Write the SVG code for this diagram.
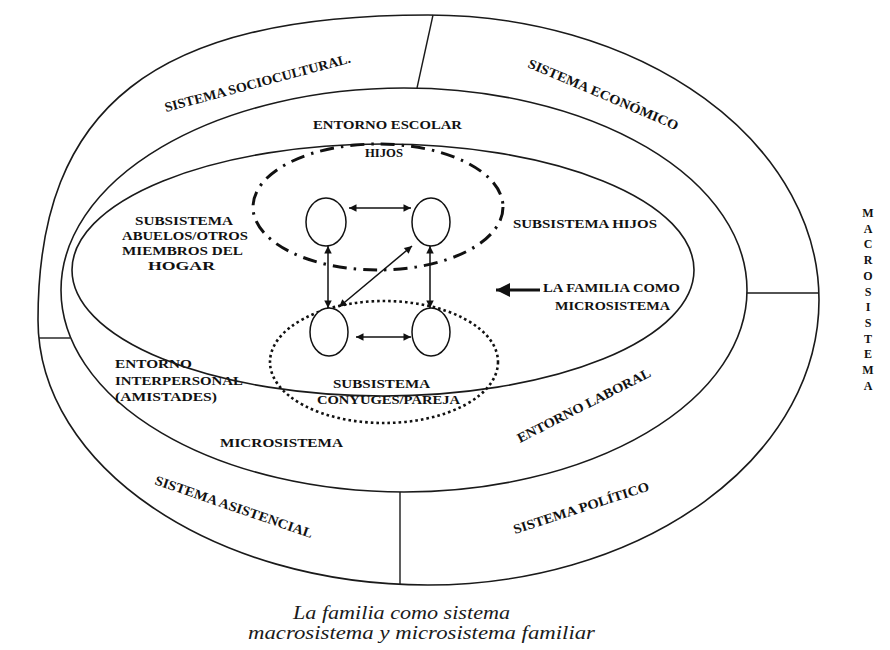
<svg xmlns="http://www.w3.org/2000/svg" width="890" height="650" viewBox="0 0 890 650">
<style>
.ring{fill:none;stroke:#1a1a1a;stroke-width:1.6}
.div{stroke:#1a1a1a;stroke-width:1.4}
.lbl{font-family:"Liberation Serif","Times New Roman",serif;font-weight:bold;font-size:13.5px;fill:#111}
.sm{font-size:13px}
.xs{font-size:12.5px}
.mid{text-anchor:middle}
.cap{font-family:"Liberation Serif","Times New Roman",serif;font-style:italic;font-size:19px;fill:#1a1a1a}
.con{stroke:#111;stroke-width:1.5;fill:none}
.mem{fill:#fff;stroke:#111;stroke-width:1.5}
</style>
<defs>
<marker id="ah" viewBox="0 0 10 10" refX="10" refY="5" markerWidth="6" markerHeight="5" orient="auto-start-reverse" markerUnits="strokeWidth">
<path d="M0,0 L10,5 L0,10 z" fill="#111"/>
</marker>
<marker id="big" viewBox="0 0 10 10" refX="10" refY="5" markerWidth="16" markerHeight="14" orient="auto" markerUnits="userSpaceOnUse">
<path d="M0,0 L10,5 L0,10 z" fill="#111"/>
</marker>
</defs>
<rect width="890" height="650" fill="#fff"/>

<g id="macrosistema">
<path class="ring" d="M428,15 A391,285 0 0 1 819,300 A391,285 0 0 1 428,585 C213,585 38,466 38,320 C38,106 155,15 428,15 Z"/>
<line class="div" x1="433" y1="15" x2="417" y2="88"/>
<line class="div" x1="747" y1="293" x2="819" y2="293"/>
<line class="div" x1="39" y1="338" x2="70" y2="338"/>
<line class="div" x1="400" y1="492" x2="400" y2="584"/>
<text class="lbl mid" style="font-size:12px">
<tspan x="868" y="217">M</tspan><tspan x="868" y="232.7">A</tspan><tspan x="868" y="248.4">C</tspan><tspan x="868" y="264.1">R</tspan><tspan x="868" y="279.8">O</tspan><tspan x="868" y="295.5">S</tspan><tspan x="868" y="311.2">I</tspan><tspan x="868" y="326.9">S</tspan><tspan x="868" y="342.6">T</tspan><tspan x="868" y="358.3">E</tspan><tspan x="868" y="374">M</tspan><tspan x="868" y="389.7">A</tspan>
</text>
</g>

<g id="sistema-sociocultural">
<text class="lbl" transform="translate(166,112) rotate(-15)" textLength="192" lengthAdjust="spacingAndGlyphs">SISTEMA SOCIOCULTURAL.</text>
</g>
<g id="sistema-economico">
<text class="lbl" transform="translate(527,67) rotate(23)" textLength="162" lengthAdjust="spacingAndGlyphs">SISTEMA ECONÓMICO</text>
</g>
<g id="sistema-asistencial">
<text class="lbl" transform="translate(154,484) rotate(19)" textLength="166" lengthAdjust="spacingAndGlyphs">SISTEMA ASISTENCIAL</text>
</g>
<g id="sistema-politico">
<text class="lbl" transform="translate(515,534) rotate(-18)" textLength="142" lengthAdjust="spacingAndGlyphs">SISTEMA POLÍTICO</text>
</g>

<g id="microsistema">
<ellipse class="ring" cx="404" cy="290" rx="343" ry="202"/>
<text class="lbl sm" x="220" y="447" textLength="123" lengthAdjust="spacingAndGlyphs">MICROSISTEMA</text>
</g>

<g id="entorno-escolar">
<text class="lbl" x="313" y="129" textLength="149" lengthAdjust="spacingAndGlyphs">ENTORNO ESCOLAR</text>
</g>
<g id="entorno-interpersonal">
<text class="lbl xs" x="115" y="368" textLength="77" lengthAdjust="spacingAndGlyphs">ENTORNO</text>
<text class="lbl xs" x="115" y="385" textLength="128" lengthAdjust="spacingAndGlyphs">INTERPERSONAL</text>
<text class="lbl xs" x="115" y="401" textLength="102" lengthAdjust="spacingAndGlyphs">(AMISTADES)</text>
</g>
<g id="entorno-laboral">
<text class="lbl" transform="translate(520,443) rotate(-27)" textLength="148" lengthAdjust="spacingAndGlyphs">ENTORNO LABORAL</text>
</g>

<g id="familia">
<ellipse class="ring" cx="383" cy="270" rx="311" ry="126"/>
<text class="lbl sm" x="543" y="292" textLength="137" lengthAdjust="spacingAndGlyphs">LA FAMILIA COMO</text>
<text class="lbl sm" x="555" y="310" textLength="115" lengthAdjust="spacingAndGlyphs">MICROSISTEMA</text>
</g>

<g id="subsistema-abuelos">
<text class="lbl sm" x="135" y="225" textLength="98" lengthAdjust="spacingAndGlyphs">SUBSISTEMA</text>
<text class="lbl sm" x="122" y="240" textLength="126" lengthAdjust="spacingAndGlyphs">ABUELOS/OTROS</text>
<text class="lbl sm" x="122" y="255" textLength="121" lengthAdjust="spacingAndGlyphs">MIEMBROS DEL</text>
<text class="lbl sm" x="148" y="270" textLength="67" lengthAdjust="spacingAndGlyphs">HOGAR</text>
</g>

<g id="subsistema-hijos">
<ellipse cx="378" cy="207" rx="125" ry="63" fill="none" stroke="#111" stroke-width="3" stroke-dasharray="14 7 2.5 7"/>
<text class="lbl sm" x="365" y="157" textLength="38" lengthAdjust="spacingAndGlyphs">HIJOS</text>
<text class="lbl sm" x="513" y="228" textLength="144" lengthAdjust="spacingAndGlyphs">SUBSISTEMA HIJOS</text>
</g>

<g id="subsistema-conyuges">
<ellipse cx="384" cy="362" rx="114" ry="61" fill="none" stroke="#111" stroke-width="2.6" stroke-dasharray="2.6 3"/>
<text class="lbl sm" x="333" y="388" textLength="97" lengthAdjust="spacingAndGlyphs">SUBSISTEMA</text>
<text class="lbl sm" x="317" y="404" textLength="143" lengthAdjust="spacingAndGlyphs">CONYUGES/PAREJA</text>
</g>

<g id="miembro-1"><ellipse class="mem" cx="326" cy="222" rx="20" ry="24"/></g>
<g id="miembro-2"><ellipse class="mem" cx="431" cy="222" rx="19" ry="24"/></g>
<g id="miembro-3"><ellipse class="mem" cx="329" cy="332" rx="19" ry="24"/></g>
<g id="miembro-4"><ellipse class="mem" cx="431" cy="332" rx="19" ry="24"/></g>

<g id="connectors">
<line class="con" x1="349" y1="208" x2="411" y2="208" marker-start="url(#ah)" marker-end="url(#ah)"/>
<line class="con" x1="328" y1="246" x2="328" y2="308" marker-start="url(#ah)" marker-end="url(#ah)"/>
<line class="con" x1="430" y1="246" x2="430" y2="308" marker-start="url(#ah)" marker-end="url(#ah)"/>
<line class="con" x1="339" y1="307" x2="412" y2="246" marker-start="url(#ah)" marker-end="url(#ah)"/>
<line class="con" x1="356" y1="337" x2="411" y2="337" marker-start="url(#ah)" marker-end="url(#ah)"/>
<line x1="540" y1="290" x2="496" y2="290" stroke="#111" stroke-width="3.2" marker-end="url(#big)"/>
</g>

<g id="caption">
<text class="cap" x="293" y="619" textLength="217" lengthAdjust="spacingAndGlyphs">La familia como sistema</text>
<text class="cap" x="248" y="639" textLength="347" lengthAdjust="spacingAndGlyphs">macrosistema y microsistema familiar</text>
</g>
</svg>
